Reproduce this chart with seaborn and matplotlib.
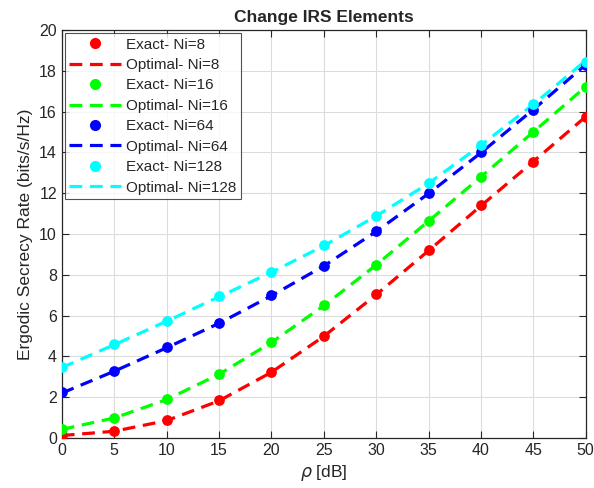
import matplotlib
matplotlib.use("Agg")
import matplotlib.pyplot as plt
import seaborn as sns
import numpy as np
import pandas as pd

rho = [0, 5, 10, 15, 20, 25, 30, 35, 40, 45, 50]
ni_labels = ["8", "16", "64", "128"]
colors = ["#ff0000", "#00ff00", "#0000ff", "#00ffff"]

exact_ni8 = [0.15, 0.35, 0.88, 1.85, 3.25, 5.0, 7.05, 9.2, 11.4, 13.55, 15.75]
exact_ni16 = [0.45, 1.0, 1.9, 3.15, 4.7, 6.5, 8.5, 10.65, 12.8, 15.0, 17.2]
exact_ni64 = [2.25, 3.3, 4.45, 5.65, 7.0, 8.45, 10.15, 12.0, 14.0, 16.1, 18.3]
exact_ni128 = [3.5, 4.6, 5.75, 6.95, 8.15, 9.45, 10.9, 12.5, 14.35, 16.35, 18.45]

opt_ni8 = [0.12, 0.33, 0.85, 1.82, 3.22, 4.98, 7.02, 9.18, 11.38, 13.55, 15.75]
opt_ni16 = [0.42, 0.98, 1.88, 3.12, 4.68, 6.48, 8.48, 10.63, 12.8, 15.0, 17.22]
opt_ni64 = [2.2, 3.27, 4.42, 5.62, 6.97, 8.43, 10.12, 11.98, 13.98, 16.1, 18.3]
opt_ni128 = [3.45, 4.57, 5.72, 6.92, 8.12, 9.42, 10.88, 12.48, 14.35, 16.35, 18.5]

exact_all = [exact_ni8, exact_ni16, exact_ni64, exact_ni128]
opt_all = [opt_ni8, opt_ni16, opt_ni64, opt_ni128]

sns.set_style("white")
plt.rcParams['font.family'] = ['Liberation Sans', 'DejaVu Sans']

fig = plt.figure(figsize=(5.94, 4.88), dpi=100)
ax = fig.add_axes([0.104, 0.1025, 0.882, 0.836])

LW = 2.3
DASH = (4.0, 2.4)
handles = []
labels = []
for lab, c, ex, op in zip(ni_labels, colors, exact_all, opt_all):
    df_op = pd.DataFrame({"rho": rho, "val": op})
    df_ex = pd.DataFrame({"rho": rho, "val": ex})
    sns.lineplot(data=df_op, x="rho", y="val", color=c,
                 linewidth=LW, ax=ax, zorder=2)
    ax.lines[-1].set_dashes(DASH)
    sns.scatterplot(data=df_ex, x="rho", y="val", color=c, s=60,
                    edgecolor=c, linewidth=0, ax=ax, zorder=3)
    h1, = ax.plot([], [], linestyle="none", marker="o", markersize=8,
                  color=c, markeredgewidth=0)
    h2, = ax.plot([], [], linewidth=LW, color=c)
    h2.set_dashes(DASH)
    handles += [h1, h2]
    labels += [f"Exact- Ni={lab}", f"Optimal- Ni={lab}"]

ax.set_xlim(0, 50)
ax.set_ylim(0, 20)
ax.set_xticks(range(0, 51, 5))
ax.set_yticks(range(0, 21, 2))
ax.grid(True, color="#dcdcdc", linewidth=0.8)
ax.set_axisbelow(True)
for s in ax.spines.values():
    s.set_color("#262626")
    s.set_linewidth(0.9)
ax.tick_params(direction="in", length=5, width=0.8, labelsize=11.5,
               colors="#262626", top=True, right=True, bottom=True, left=True)
ax.set_xlabel(r"$\rho$ [dB]", fontsize=12.5, color="#262626", labelpad=4)
ax.set_ylabel("Ergodic Secrecy Rate (bits/s/Hz)", fontsize=12.5, color="#262626")
ax.set_title("Change IRS Elements", fontsize=12.5, fontweight="bold", pad=6)

leg = ax.legend(handles, labels, loc="upper left", fontsize=11,
                frameon=True, fancybox=False, edgecolor="#262626",
                borderaxespad=0.2, handlelength=3.4, handletextpad=0.3,
                labelspacing=0.42, borderpad=0.3)
leg.get_frame().set_linewidth(0.8)

fig.savefig("out.png", dpi=100)
